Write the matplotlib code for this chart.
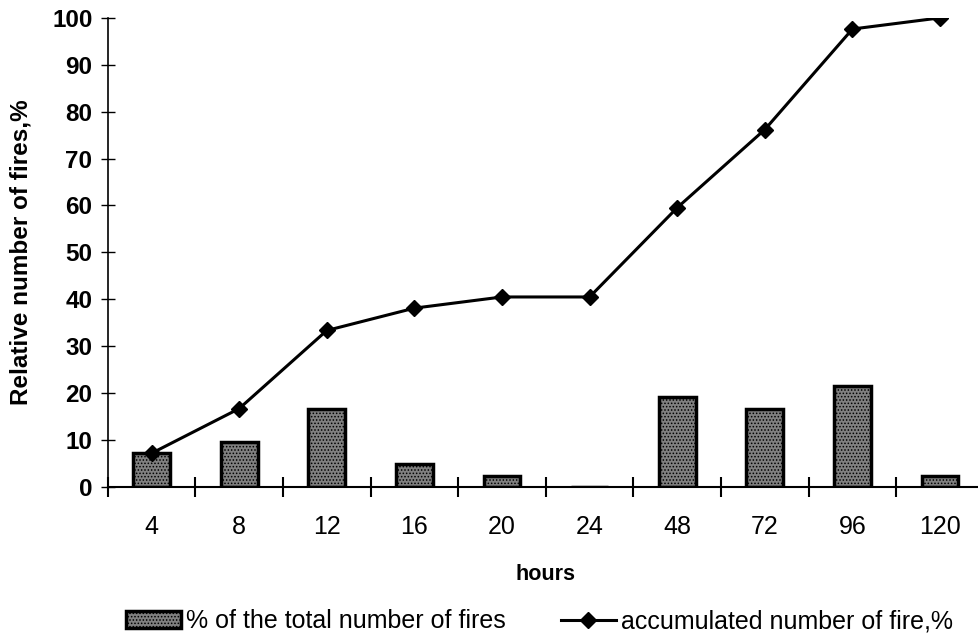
import numpy as np
import matplotlib
matplotlib.use("Agg")
import matplotlib.pyplot as plt
from matplotlib.ticker import FixedLocator, NullFormatter, FixedFormatter

plt.rcParams['font.family'] = ['Liberation Sans', 'DejaVu Sans']
plt.rcParams['hatch.color'] = '#d0d0d0'
plt.rcParams['hatch.linewidth'] = 0.7

# fires by hour group
hours = ['4', '8', '12', '16', '20', '24', '48', '72', '96', '120']
share = [7.14, 9.52, 16.67, 4.76, 2.38, 0.0, 19.05, 16.67, 21.43, 2.38]
accum = [7.14, 16.67, 33.33, 38.10, 40.48, 40.48, 59.52, 76.19, 97.62, 100.0]

fig = plt.figure(figsize=(9.79, 6.38), dpi=100)
ax = fig.add_axes([0.110, 0.237, 0.895, 0.735])

x = np.arange(len(hours))
bars = ax.bar(x, share, width=0.42, color='#808080', edgecolor='black',
              linewidth=2.5, hatch='.....', label='% of the total number of fires', zorder=2)
line, = ax.plot(x, accum, color='black', lw=2.2, marker='D', markersize=8.5,
                label='accumulated number of fire,%', zorder=3)

ax.set_xlim(-0.5, 9.5)
ax.set_ylim(0, 100)
ax.set_yticks(np.arange(0, 101, 10))
for lbl in ax.get_yticklabels():
    lbl.set_fontweight('bold')
ax.tick_params(axis='y', direction='inout', length=10, width=1, labelsize=17.5, pad=6)

# separator ticks between categories, labels at the centres
ax.xaxis.set_major_locator(FixedLocator(np.arange(-0.5, 10.0, 1.0)))
ax.xaxis.set_major_formatter(NullFormatter())
ax.xaxis.set_minor_locator(FixedLocator(x))
ax.xaxis.set_minor_formatter(FixedFormatter(hours))
ax.tick_params(axis='x', which='major', direction='inout', length=14, width=1.5)
ax.tick_params(axis='x', which='minor', length=0, labelsize=18, pad=20)

for side in ['top', 'right']:
    ax.spines[side].set_visible(False)
ax.spines['left'].set_linewidth(1.2)
ax.spines['bottom'].set_linewidth(1.5)

ax.set_xlabel('hours', fontsize=15.5, fontweight='bold', labelpad=18)
ax.set_ylabel('Relative number of fires,%', fontsize=17.5, fontweight='bold', labelpad=14)

fig.legend(handles=[bars, line], loc='center', bbox_to_anchor=(0.551, 0.026),
           ncol=2, frameon=False, fontsize=18, handlelength=2.2, handleheight=0.65,
           handletextpad=0.2, columnspacing=2.2, borderpad=0.1)

fig.savefig('out.png', dpi=100)
